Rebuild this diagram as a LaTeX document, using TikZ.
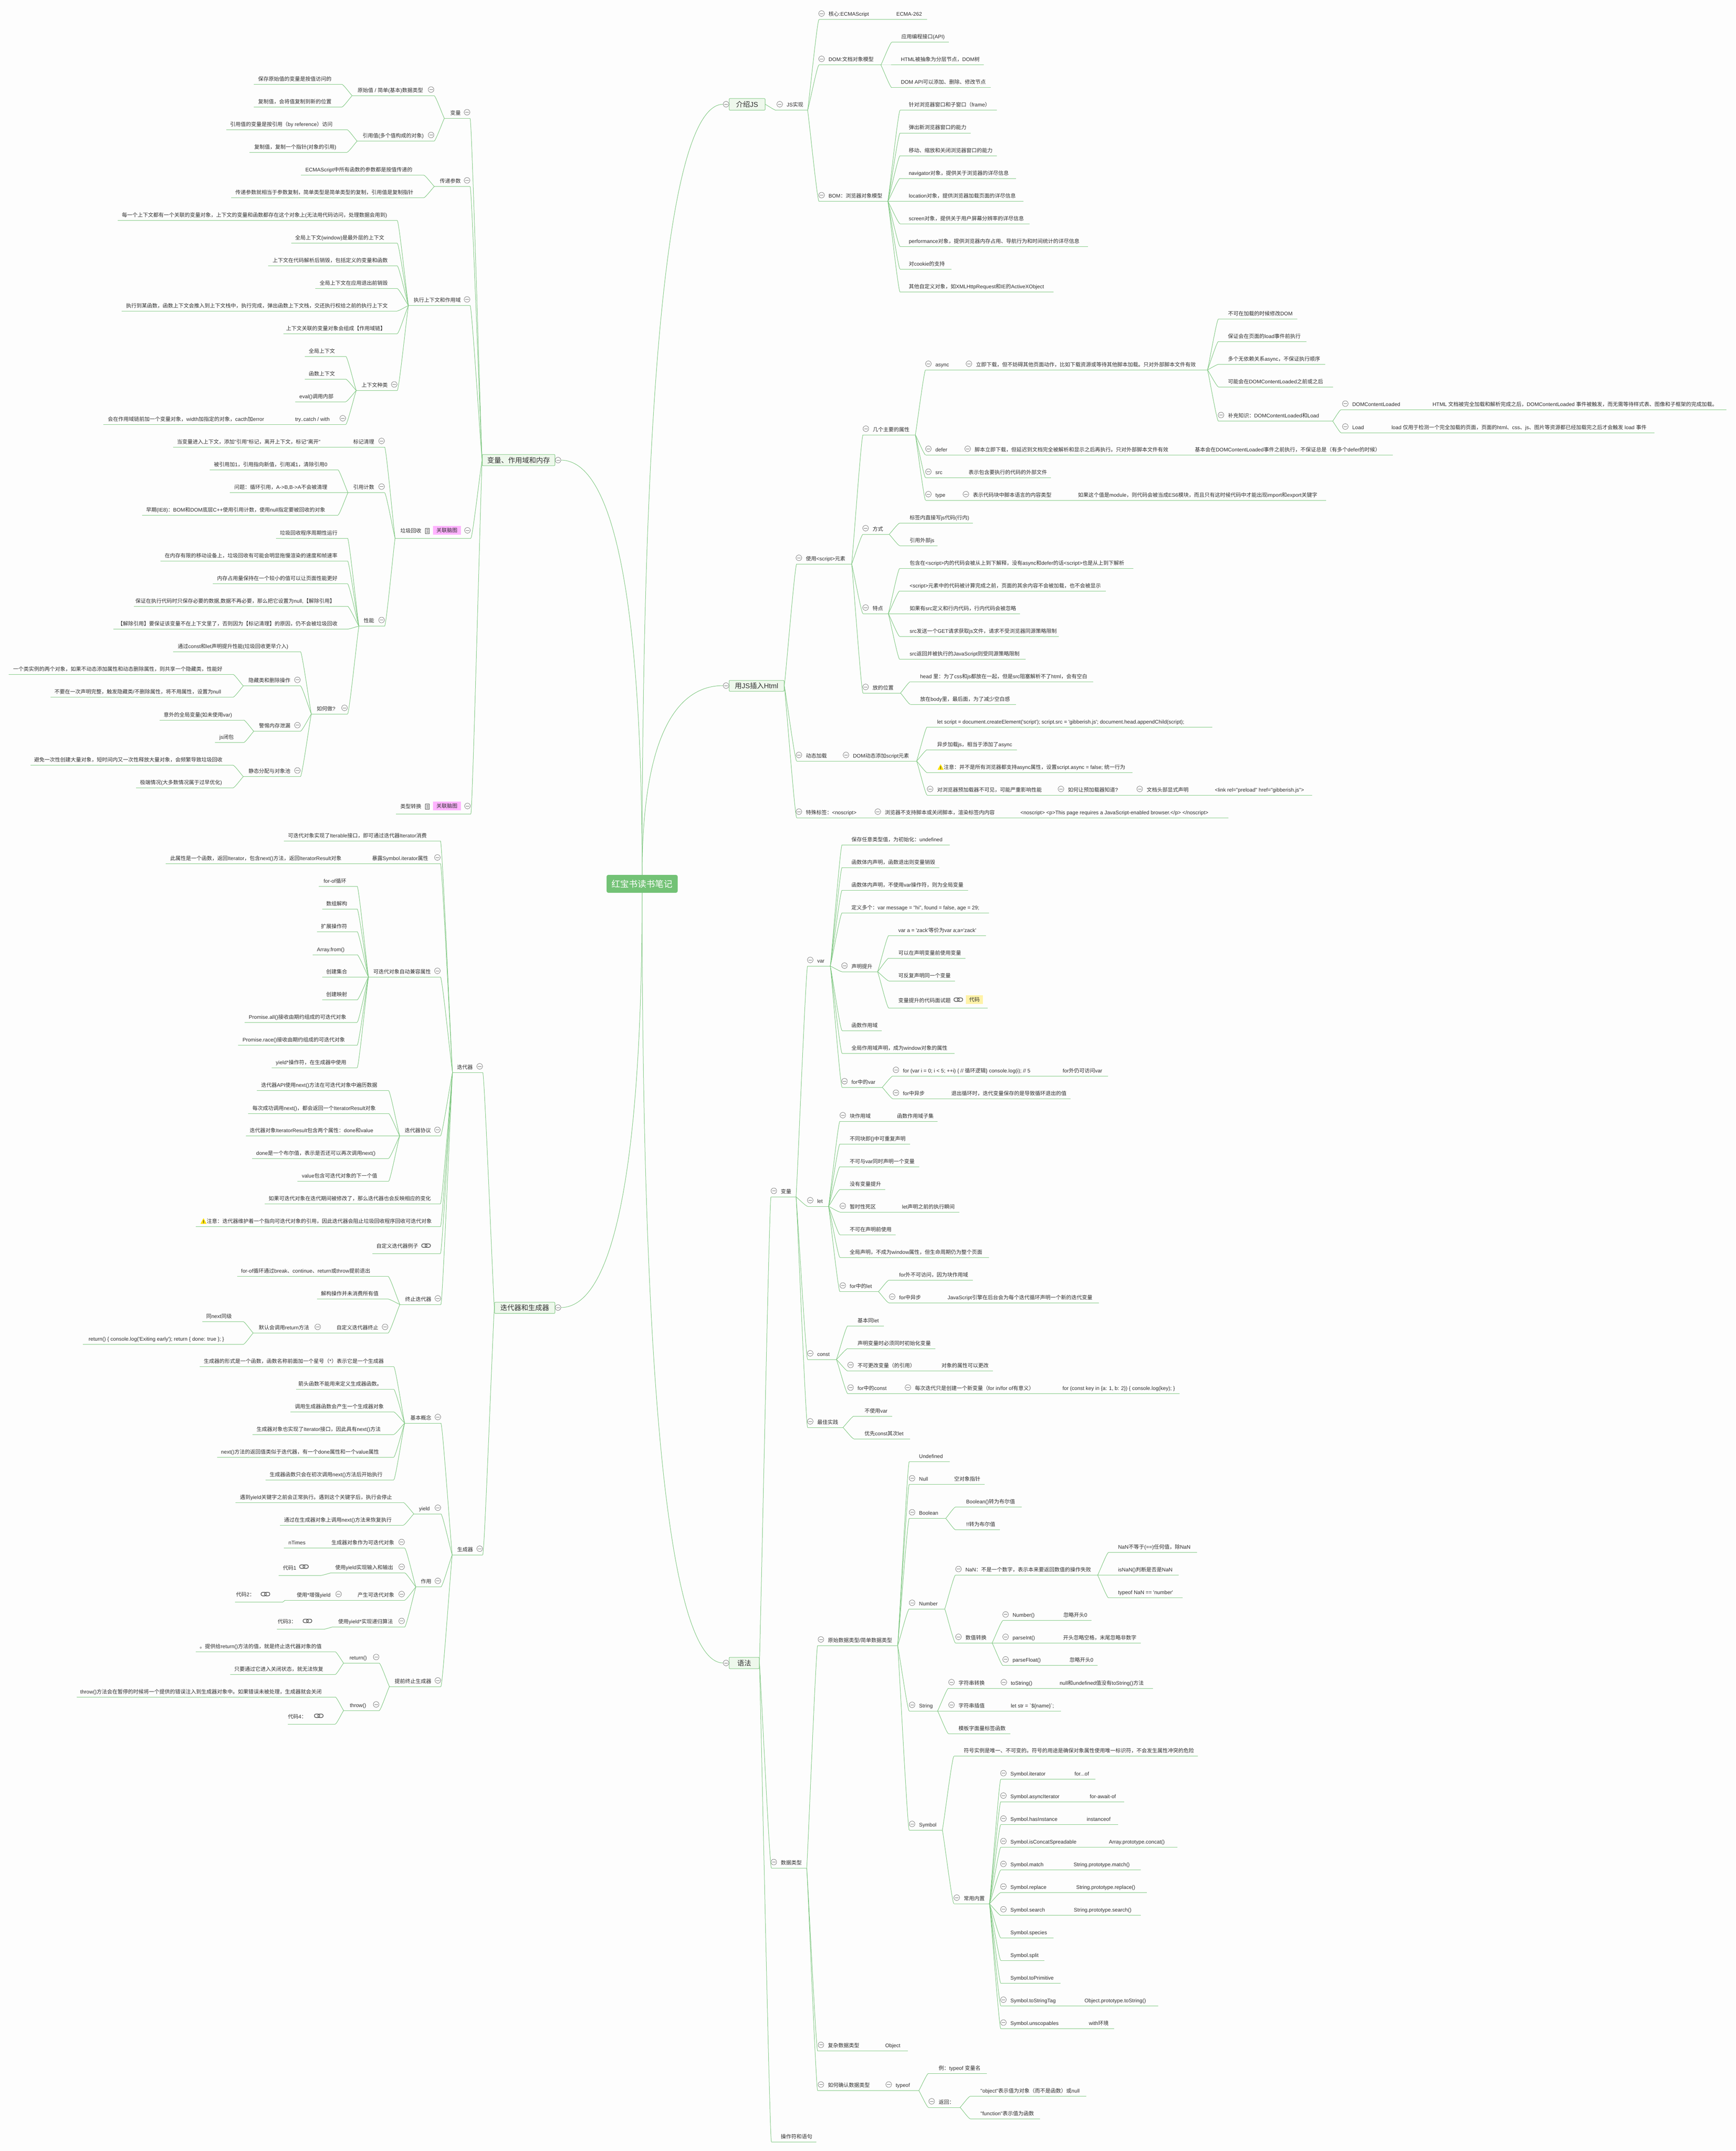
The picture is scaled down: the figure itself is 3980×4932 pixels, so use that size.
\documentclass[tikz,border=0pt]{standalone}
\usepackage{fontspec}
\usetikzlibrary{calc}
\setmainfont{Liberation Sans}
\newfontfamily\latinf{Liberation Sans}
\newfontfamily\cjkf{Noto Sans CJK SC}
\XeTeXinterchartokenstate=1
\newXeTeXintercharclass\cjkcls
\newcount\ccnt
\ccnt="2E80 \loop \XeTeXcharclass\ccnt=\cjkcls \advance\ccnt 1 \ifnum\ccnt<"A000 \repeat
\ccnt="FF00 \loop \XeTeXcharclass\ccnt=\cjkcls \advance\ccnt 1 \ifnum\ccnt<"FFF0 \repeat
\XeTeXinterchartoks 0 \cjkcls={\cjkf}
\XeTeXinterchartoks 4095 \cjkcls={\cjkf}
\XeTeXinterchartoks \cjkcls 0={\latinf}
\XeTeXinterchartoks \cjkcls 4095={\latinf}
\definecolor{bgc}{HTML}{FDFDFD}
\definecolor{grn}{HTML}{7CC67E}
\definecolor{txt}{HTML}{303030}
\definecolor{rootc}{HTML}{73C276}
\definecolor{boxc}{HTML}{EEF8EC}
\definecolor{tagy}{HTML}{FFF2A8}
\definecolor{tagp}{HTML}{FFB3FF}
\tikzset{
 tn/.style={inner sep=0pt,outer sep=0pt,text=txt,font=\latinf\fontsize{12}{12}\selectfont},
 con/.style={draw=grn,line width=1pt},
 cc/.style={draw=black!55,line width=.8pt},
 boxn/.style={draw=grn,line width=1pt,fill=boxc,rounded corners=2pt,inner sep=0pt,text=txt,font=\latinf\fontsize{16}{16}\selectfont},
 tagn/.style={inner sep=0pt,text=txt,font=\latinf\fontsize{12}{12}\selectfont,minimum height=20pt},
}
\def\tkD{8pt}
\newcommand\cnn[2]{\draw[con] let \p1=(#1),\p2=(#2) in (\p1) .. controls ({\x1+.15*(\x2-\x1)},{\y1+.12*(\y2-\y1)}) and ({\x1+.85*(\x2-\x1)},\y2) .. (\p2);}
\newcommand\mcv[2]{\draw[con] let \p1=(#1),\p2=(#2) in (\p1) .. controls (\x1,{\y1+.69*(\y2-\y1)}) and ({\x1+.38*(\x2-\x1)},\y2) .. (\p2);}
\newcommand\ciS[2]{\draw[cc,fill=bgc] ({#1},{#2}) circle[radius=6.5pt];\draw[cc] ({(#1)-4},{#2}) -- ({(#1)+4},{#2});}
\newcommand\nR[7]{\pgfmathsetlengthmacro\tkW{(#4-#3)}\pgfmathsetlengthmacro\tkO{(#6-#3)}%
 \node[tn,anchor=south west] (#1) at (#3,#5) {\makebox[\tkW][l]{\hspace*{\tkO}\rule[-\tkD]{0pt}{24pt}#7}};%
 \draw[con] (#1.south west) -- (#1.south east);%
 \ifx\relax#2\relax\else\cnn{#2.south east}{#1.south west}\fi}
\newcommand\nL[7]{\pgfmathsetlengthmacro\tkW{(#4-#3)}\pgfmathsetlengthmacro\tkO{(#4-#6)}%
 \node[tn,anchor=south west] (#1) at (#3,#5) {\makebox[\tkW][r]{#7\rule[-\tkD]{0pt}{24pt}\hspace*{\tkO}}};%
 \draw[con] (#1.south west) -- (#1.south east);%
 \ifx\relax#2\relax\else\cnn{#2.south west}{#1.south east}\fi}
\newcommand\cR[7]{\nR{#1}{#2}{#3}{#4}{#5}{#6}{#7}\ciS{#6-16}{#5-14}}
\newcommand\cL[7]{\nL{#1}{#2}{#3}{#4}{#5}{#6}{#7}\ciS{#4-7}{#5-14}}
\newcommand\lkI[2]{\draw[black!65,line width=1.5pt,rounded corners=3.5pt] ({#1-10},{#2-4}) rectangle ({#1+2},{#2+4}) ({#1-2},{#2-4}) rectangle ({#1+10},{#2+4});}
\newcommand\wnI[2]{\fill[yellow!85!orange,rounded corners=.6pt] ({#1},{#2-7}) -- ({#1+7},{#2+6}) -- ({#1-7},{#2+6}) -- cycle;\fill[black!75] ({#1-.7},{#2-2.5}) rectangle ({#1+.7},{#2+2.5}) ({#1-.7},{#2+3.2}) rectangle ({#1+.7},{#2+4.6});}
\newcommand\ntI[2]{\draw[black!70,line width=.9pt] ({#1-4.5},{#2-6}) rectangle ({#1+4.5},{#2+6}) ({#1-2.5},{#2-3}) -- ({#1+2.5},{#2-3}) ({#1-2.5},{#2}) -- ({#1+2.5},{#2}) ({#1-2.5},{#2+3}) -- ({#1+2.5},{#2+3});}
\begin{document}
\begin{tikzpicture}[x=1pt,y=-1pt]
\useasboundingbox (0,0) rectangle (3980,4932);
\fill[bgc] (0,0) rectangle (3980,4932);
% root and main boxes
\node[fill=rootc,rounded corners=4pt,inner sep=0pt,minimum width=163pt,minimum height=41pt,text=white,font=\latinf\fontsize{20}{20}\selectfont] (root) at (1472.5,2026.5) {红宝书读书笔记};
\coordinate (ea) at (1658.5,239);
\coordinate (eb) at (1658.5,1572);
\coordinate (ec) at (1658.5,3813);
\coordinate (ed) at (1286,1055);
\coordinate (ee) at (1286,2998);
\mcv{root.north}{ea}\mcv{root.north}{eb}\mcv{root.south}{ec}\mcv{root.north}{ed}\mcv{root.south}{ee}
\node[boxn,minimum width=82.5pt,minimum height=26.6pt] (bA) at (1713.25,239.3) {介绍JS};
\node[boxn,minimum width=126pt,minimum height=25pt] (bB) at (1735,1572.5) {用JS插入Html};
\node[boxn,minimum width=69pt,minimum height=26pt] (bC) at (1706.5,3813) {语法};
\node[boxn,minimum width=166.6pt,minimum height=25.7pt] (bD) at (1189.3,1054.9) {变量、作用域和内存};
\node[boxn,minimum width=138.6pt,minimum height=25.5pt] (bE) at (1203.3,2998.7) {迭代器和生成器};
\ciS{1665}{239}\ciS{1665}{1572}\ciS{1665}{3813}\ciS{1279.6}{1055}\ciS{1279.6}{2998}
% ---------- 介绍JS
\cR{a0}{}{1780}{1852}{253}{1804}{JS实现}\cnn{bA.east}{a0.south west}
\cR{a1}{a0}{1878}{2042}{45}{1900}{核心:ECMAScript}
\nR{a1b}{a1}{2042}{2125.6}{45}{2055.5}{ECMA-262}
\cR{a2}{a0}{1878}{2020}{149}{1900}{DOM:文档对象模型}
\nR{a21}{a2}{2045}{2176}{97}{2067}{应用编程接口(API)}
\nR{a22}{a2}{2045}{2256}{149}{2066}{HTML被抽象为分层节点，DOM树}
\nR{a23}{a2}{2045}{2272}{201}{2066}{DOM API可以添加、删除、修改节点}
\cR{a3}{a0}{1878}{2036}{461.5}{1900}{BOM：浏览器对象模型}
\nR{a31}{a3}{2064}{2285.6}{253}{2084}{针对浏览器窗口和子窗口（frame）}
\nR{a32}{a3}{2064}{2226}{305}{2084}{弹出新浏览器窗口的能力}
\nR{a33}{a3}{2064}{2286}{357}{2084}{移动、缩放和关闭浏览器窗口的能力}
\nR{a34}{a3}{2064}{2330}{409}{2084}{navigator对象，提供关于浏览器的详尽信息}
\nR{a35}{a3}{2064}{2346.6}{461.5}{2084}{location对象，提供浏览器加载页面的详尽信息}
\nR{a36}{a3}{2064}{2361}{513}{2084}{screen对象，提供关于用户屏幕分辨率的详尽信息}
\nR{a37}{a3}{2064}{2495}{565}{2084}{performance对象，提供浏览器内存占用、导航行为和时间统计的详尽信息}
\nR{a38}{a3}{2064}{2182.4}{617}{2084}{对cookie的支持}
\nR{a39}{a3}{2064}{2416}{669.5}{2084}{其他自定义对象，如XMLHttpRequest和IE的ActiveXObject}
% ---------- 用JS插入Html
\cR{c0}{}{1827}{1953}{1293}{1848}{使用<script>元素}\cnn{bB.east}{c0.south west}
\cR{c1}{c0}{1979}{2099}{997}{2001.6}{几个主要的属性}
\cR{c11}{c1}{2122.5}{2216}{848}{2145}{async}
\cR{c11b}{c11}{2216}{2769}{848}{2238}{立即下载，但不妨碍其他页面动作，比如下载资源或等待其他脚本加载。只对外部脚本文件有效}
\nR{c111}{c11b}{2794}{2975}{731.5}{2816}{不可在加载的时候修改DOM}
\nR{c112}{c11b}{2794}{2996}{783}{2816}{保证会在页面的load事件前执行}
\nR{c113}{c11b}{2794}{3039}{835.5}{2816}{多个无依赖关系async，不保证执行顺序}
\nR{c114}{c11b}{2794}{3057}{887}{2816}{可能会在DOMContentLoaded之前或之后}
\cR{c115}{c11b}{2794}{3056}{965.6}{2816}{补充知识：DOMContentLoaded和Load}
\cR{c1151}{c115}{3075}{3270}{939.5}{3101}{DOMContentLoaded}
\nR{c1151b}{c1151}{3270}{3959}{939.5}{3285}{HTML 文档被完全加载和解析完成之后，DOMContentLoaded 事件被触发，而无需等待样式表、图像和子框架的完成加载。}
\cR{c1152}{c115}{3075}{3176}{992}{3101}{Load}
\nR{c1152b}{c1152}{3176}{3793.5}{992}{3191}{load 仅用于检测一个完全加载的页面，页面的html、css、js、图片等资源都已经加载完之后才会触发 load 事件}
\cR{c12}{c1}{2122.5}{2214}{1043}{2145}{defer}
\cR{c12b}{c12}{2214}{2726}{1043}{2235}{脚本立即下载，但延迟到文档完全被解析和显示之后再执行。只对外部脚本文件有效}
\nR{c12c}{c12b}{2726}{3194}{1043}{2740}{基本会在DOMContentLoaded事件之前执行，不保证总是（有多个defer的时候）}
\cR{c13}{c1}{2122.5}{2207}{1095.5}{2145}{src}
\nR{c13b}{c13}{2207}{2410}{1095.5}{2221}{表示包含要执行的代码的外部文件}
\cR{c14}{c1}{2122.5}{2209}{1147}{2145}{type}
\cR{c14b}{c14}{2209}{2458}{1147}{2231}{表示代码块中脚本语言的内容类型}
\nR{c14c}{c14b}{2458}{3041}{1147}{2472}{如果这个值是module，则代码会被当成ES6模块，而且只有这时候代码中才能出现import和export关键字}
\cR{c2}{c0}{1979}{2039}{1225}{2001}{方式}
\nR{c21}{c2}{2063}{2231}{1199.6}{2086}{标签内直接写js代码(行内)}
\nR{c22}{c2}{2063}{2150}{1251}{2086}{引用外部js}
\cR{c3}{c0}{1979}{2037}{1407}{2001}{特点}
\nR{c31}{c3}{2063}{2599}{1303.6}{2086}{包含在<script>内的代码会被从上到下解释，没有async和defer的话<script>也是从上到下解析}
\nR{c32}{c3}{2063}{2536}{1355}{2086}{<script>元素中的代码被计算完成之前，页面的其余内容不会被加载，也不会被显示}
\nR{c33}{c3}{2063}{2339}{1407}{2086}{如果有src定义和行内代码，行内代码会被忽略}
\nR{c34}{c3}{2063}{2428}{1459}{2086}{src发送一个GET请求获取js文件，请求不受浏览器同源策略限制}
\nR{c35}{c3}{2063}{2352}{1511.5}{2086}{src返回并被执行的JavaScript则受同源策略限制}
\cR{c4}{c0}{1979}{2065}{1589}{2001}{放的位置}
\nR{c41}{c4}{2087.5}{2507}{1563}{2110}{head 里：为了css和js都放在一起，但是src阻塞解析不了html，会有空白}
\nR{c42}{c4}{2087.5}{2330}{1615}{2110}{放在body里，最后面，为了减少空白感}
\cR{d0}{}{1827}{1934}{1745}{1848}{动态加载}\cnn{bB.east}{d0.south west}
\cR{d0b}{d0}{1934}{2102}{1745}{1956}{DOM动态添加script元素}
\nR{d1}{d0b}{2126}{2780}{1667}{2149}{let script = document.createElement('script'); script.src = 'gibberish.js'; document.head.appendChild(script);}
\nR{d2}{d0b}{2126}{2332}{1719}{2149}{异步加载js，相当于添加了async}
\nR{d3}{d0b}{2126}{2597}{1771.6}{2164}{注意：并不是所有浏览器都支持async属性，设置script.async = false; 统一行为}
\wnI{2157}{1759}
\cR{d4}{d0b}{2126}{2427}{1823}{2149}{对浏览器预加载器不可见，可能严重影响性能}
\cR{d4b}{d4}{2427}{2607}{1823}{2449}{如何让预加载器知道?}
\cR{d4c}{d4b}{2607}{2772}{1823}{2629.5}{文档头部显式声明}
\nR{d4d}{d4c}{2772}{3009}{1823}{2786}{<link rel="preload" href="gibberish.js">}
\cR{e0}{}{1827}{2006}{1875}{1848}{特殊标签：<noscript>}\cnn{bB.east}{e0.south west}
\cR{e0b}{e0}{2006}{2326}{1875}{2029}{浏览器不支持脚本或关闭脚本，渲染标签内内容}
\nR{e0c}{e0b}{2326}{2817}{1875}{2340}{<noscript> <p>This page requires a JavaScript-enabled browser.</p> </noscript>}
% ---------- 语法: 变量
\cR{f0}{}{1768}{1825.6}{2744.5}{1790.6}{变量}\cnn{bC.east}{f0.south west}
\cR{f1}{f0}{1852}{1904}{2215}{1874}{var}
\nR{f11}{f1}{1931}{2178}{1937}{1952.6}{保存任意类型值，为初始化：undefined}
\nR{f12}{f1}{1931}{2154}{1989}{1952.6}{函数体内声明，函数退出则变量销毁}
\nR{f13}{f1}{1931}{2220}{2041}{1952.6}{函数体内声明，不使用var操作符，则为全局变量}
\nR{f14}{f1}{1931}{2268}{2093}{1952.6}{定义多个：var message = "hi", found = false, age = 29;}
\cR{f15}{f1}{1931}{2012.5}{2228}{1952.6}{声明提升}
\nR{f151}{f15}{2038}{2261}{2145}{2060}{var a = 'zack'等价为var a;a='zack'}
\nR{f152}{f15}{2038}{2214}{2197}{2060}{可以在声明变量前使用变量}
\nR{f153}{f15}{2038}{2190}{2249}{2060}{可反复声明同一个变量}
\def\tkD{13pt}
\nR{f154}{f15}{2038}{2264.5}{2311.4}{2060}{变量提升的代码面试题}
\def\tkD{8pt}
\lkI{2197.5}{2292}
\node[tagn,fill=tagy,minimum width=39pt] (tg1) at (2234.5,2291.8) {代码};
\nR{f16}{f1}{1931}{2022}{2363}{1952.6}{函数作用域}
\nR{f17}{f1}{1931}{2188.5}{2415}{1952.6}{全局作用域声明，成为window对象的属性}
\cR{f18}{f1}{1931}{2023}{2493}{1952.6}{for中的var}
\cR{f181}{f18}{2047.6}{2424}{2467}{2070.6}{for (var i = 0; i < 5; ++i) \{ // 循环逻辑\} console.log(i); // 5}
\nR{f181b}{f181}{2424}{2541}{2467}{2437}{for外仍可访问var}
\cR{f182}{f18}{2047.6}{2168}{2519.5}{2070.6}{for中异步}
\nR{f182b}{f182}{2168}{2455}{2519.5}{2181.5}{退出循环时，迭代变量保存的是导致循环退出的值}
\cR{f2}{f0}{1852}{1900}{2766}{1874}{let}
\cR{f21}{f2}{1926}{2045}{2571}{1948.7}{块作用域}
\nR{f21b}{f21}{2045}{2150}{2571}{2057}{函数作用域子集}
\nR{f22}{f2}{1926}{2086.5}{2623}{1948.7}{不同块即\{\}中可重复声明}
\nR{f23}{f2}{1926}{2108}{2675}{1948.7}{不可与var同时声明一个变量}
\nR{f24}{f2}{1926}{2030}{2727.5}{1948.7}{没有变量提升}
\cR{f25}{f2}{1926}{2056}{2779}{1948.7}{暂时性死区}
\nR{f25b}{f25}{2056}{2200}{2779}{2068.6}{let声明之前的执行瞬间}
\nR{f26}{f2}{1926}{2054}{2831}{1948.7}{不可在声明前使用}
\nR{f27}{f2}{1926}{2267.6}{2883}{1948.7}{全局声明，不成为window属性，但生命周期仍为整个页面}
\cR{f28}{f2}{1926}{2014.4}{2961.5}{1948.7}{for中的let}
\nR{f281}{f28}{2038}{2231}{2935.6}{2062}{for外不可访问，因为块作用域}
\cR{f282}{f28}{2038}{2160}{2987}{2062}{for中异步}
\nR{f282b}{f282}{2160}{2520}{2987}{2173}{JavaScript引擎在后台会为每个迭代循环声明一个新的迭代变量}
\cR{f3}{f0}{1852}{1918}{3117}{1874}{const}
\nR{f31}{f3}{1944}{2026.5}{3040}{1966.6}{基本同let}
\nR{f32}{f3}{1944}{2144.5}{3092}{1966.6}{声明变量时必须同时初始化变量}
\cR{f33}{f3}{1944}{2146}{3143.6}{1966.6}{不可更改变量（的引用）}
\nR{f33b}{f33}{2146}{2276.6}{3143.6}{2159}{对象的属性可以更改}
\cR{f34}{f3}{1944}{2075}{3195.4}{1966.6}{for中的const}
\cR{f34b}{f34}{2075}{2424}{3195.4}{2098}{每次迭代只是创建一个新变量（for in/for of有意义）}
\nR{f34c}{f34b}{2424}{2705}{3195.4}{2436.6}{for (const key in \{a: 1, b: 2\}) \{ console.log(key); \}}
\cR{f4}{f0}{1852}{1933}{3273}{1874}{最佳实践}
\nR{f41}{f4}{1958}{2046}{3247}{1982.5}{不使用var}
\nR{f42}{f4}{1958}{2086.5}{3299}{1982.5}{优先const其次let}
% ---------- 数据类型
\cR{g0}{}{1769}{1850}{4283.5}{1790.5}{数据类型}\cnn{bC.east}{g0.south west}
\cR{g1}{g0}{1875}{2058.5}{3773}{1898.5}{原始数据类型/简单数据类型}
\nR{g11}{g1}{2085}{2178}{3351.4}{2107.6}{Undefined}
\cR{g12}{g1}{2085}{2175}{3403.5}{2107.6}{Null}
\nR{g12b}{g12}{2175}{2258}{3403.5}{2188}{空对象指针}
\cR{g13}{g1}{2085}{2168.6}{3481.5}{2107.6}{Boolean}
\nR{g131}{g13}{2191}{2342.6}{3455.5}{2215.6}{Boolean()转为布尔值}
\nR{g132}{g13}{2191}{2292.8}{3507.5}{2215.6}{!!转为布尔值}
\cR{g14}{g1}{2085}{2166.5}{3689}{2107.6}{Number}
\cR{g141}{g14}{2191}{2517}{3611.6}{2214}{NaN：不是一个数字，表示本来要返回数值的操作失败}
\nR{g1411}{g141}{2542}{2745}{3559.6}{2564}{NaN不等于(==)任何值，除NaN}
\nR{g1412}{g141}{2542}{2702.5}{3611.6}{2564}{isNaN()判断是否是NaN}
\nR{g1413}{g141}{2542}{2712}{3663.7}{2564}{typeof NaN == 'number'}
\cR{g142}{g14}{2191}{2275}{3767}{2214}{数值转换}
\cR{g1421}{g142}{2300}{2425}{3715.7}{2322}{Number()}
\nR{g1421b}{g1421}{2425}{2503}{3715.7}{2438.7}{忽略开头0}
\cR{g1422}{g142}{2300}{2425}{3767}{2322}{parseInt()}
\nR{g1422b}{g1422}{2425}{2615.5}{3767}{2438}{开头忽略空格，末尾忽略非数字}
\cR{g1423}{g142}{2300}{2439}{3818.8}{2322}{parseFloat()}
\nR{g1423b}{g1423}{2439}{2517}{3818.8}{2452.7}{忽略开头0}
\cR{g15}{g1}{2085}{2150}{3923}{2107.6}{String}
\cR{g151}{g15}{2175}{2296}{3871}{2198}{字符串转换}
\cR{g151b}{g151}{2296}{2418}{3871}{2318}{toString()}
\nR{g151c}{g151b}{2418}{2644}{3871}{2430}{null和undefined值没有toString()方法}
\cR{g152}{g15}{2175}{2306}{3923}{2198}{字符串插值}
\nR{g152b}{g152}{2306}{2433}{3923}{2318}{let str = `\$\{name\}`;}
\nR{g153}{g15}{2175}{2317}{3975}{2198}{模板字面量标签函数}
\cR{g16}{g1}{2085}{2161}{4196}{2107.6}{Symbol}
\nR{g161}{g16}{2187.5}{2747}{4026.7}{2210}{符号实例是唯一、不可变的。符号的用途是确保对象属性使用唯一标识符，不会发生属性冲突的危险}
\cR{g162}{g16}{2187.5}{2269}{4365}{2210}{常用内置}
\cR{h1}{g162}{2295}{2450}{4079.6}{2317}{Symbol.iterator}
\nR{h1b}{h1}{2450}{2511.6}{4079.6}{2464}{for...of}
\cR{h2}{g162}{2295}{2486}{4131}{2317}{Symbol.asyncIterator}
\nR{h2b}{h2}{2486}{2577.6}{4131}{2499}{for-await-of}
\cR{h3}{g162}{2295}{2479}{4183.7}{2317}{Symbol.hasInstance}
\nR{h3b}{h3}{2479}{2563.6}{4183.7}{2492}{instanceof}
\cR{h4}{g162}{2295}{2530}{4235.4}{2317}{Symbol.isConcatSpreadable}
\nR{h4b}{h4}{2530}{2700}{4235.4}{2543}{Array.prototype.concat()}
\cR{h5}{g162}{2295}{2449}{4287.7}{2317}{Symbol.match}
\nR{h5b}{h5}{2449}{2615.5}{4287.7}{2462}{String.prototype.match()}
\cR{h6}{g162}{2295}{2455}{4339.4}{2317}{Symbol.replace}
\nR{h6b}{h6}{2455}{2629.5}{4339.4}{2468}{String.prototype.replace()}
\cR{h7}{g162}{2295}{2449}{4391.7}{2317}{Symbol.search}
\nR{h7b}{h7}{2449}{2616}{4391.7}{2462.5}{String.prototype.search()}
\nR{h8}{g162}{2295}{2416}{4443.4}{2317}{Symbol.species}
\nR{h9}{g162}{2295}{2394.5}{4495}{2317}{Symbol.split}
\nR{h10}{g162}{2295}{2432}{4547.4}{2317}{Symbol.toPrimitive}
\cR{h11}{g162}{2295}{2474}{4599}{2317}{Symbol.toStringTag}
\nR{h11b}{h11}{2474}{2655.5}{4599}{2487}{Object.prototype.toString()}
\cR{h12}{g162}{2295}{2484}{4651.5}{2317}{Symbol.unscopables}
\nR{h12b}{h12}{2484}{2555}{4651.5}{2497}{with环境}
\cR{g2}{g0}{1875}{2017}{4702.6}{1898.5}{复杂数据类型}
\nR{g2b}{g2}{2017}{2081.6}{4702.6}{2030}{Object}
\cR{g3}{g0}{1875}{2032}{4793.5}{1898.5}{如何确认数据类型}
\cR{g3b}{g3}{2032}{2107}{4793.5}{2054}{typeof}
\nR{g31}{g3b}{2129}{2263}{4754}{2152.5}{例：typeof 变量名}
\cR{g32}{g3b}{2129}{2201.6}{4832}{2152.5}{返回：}
\nR{g321}{g32}{2224.7}{2491}{4806.6}{2248.6}{"object"表示值为对象（而不是函数）或null}
\nR{g322}{g32}{2224.7}{2384.7}{4858}{2248.6}{"function"表示值为函数}
\nR{k0}{}{1769}{1872}{4911}{1790.5}{操作符和语句}\cnn{bC.east}{k0.south west}
% ---------- LEFT 变量、作用域和内存
\cL{m1}{}{1019}{1078}{271.4}{1056.5}{变量}\cnn{bD.west}{m1.south east}
\cL{m11}{m1}{807.5}{995.5}{219.4}{970}{原始值 / 简单(基本)数据类型}
\nL{m111}{m11}{582}{784}{193.4}{760}{保存原始值的变量是按值访问的}
\nL{m112}{m11}{582}{784}{245.4}{760}{复制值，会将值复制到新的位置}
\cL{m12}{m1}{819}{995.5}{323.5}{971.6}{引用值(多个值构成的对象)}
\nL{m121}{m12}{518.5}{796}{297.4}{762.6}{引用值的变量是按引用（by reference）访问}
\nL{m122}{m12}{572}{796}{349}{771}{复制值，复制一个指针(对象的引用)}
\cL{m2}{}{996}{1078}{427.6}{1056.5}{传递参数}\cnn{bD.west}{m2.south east}
\nL{m21}{m2}{690}{971.6}{401.5}{945.7}{ECMAScript中所有函数的参数都是按值传递的}
\nL{m22}{m2}{530}{971.6}{453.6}{947.8}{传递参数就相当于参数复制，简单类型是简单类型的复制，引用值是复制指针}
\cL{m3}{}{936.6}{1078}{700.5}{1056.5}{执行上下文和作用域}\cnn{bD.west}{m3.south east}
\nL{m31}{m3}{269.5}{911}{505.6}{887.5}{每一个上下文都有一个关联的变量对象，上下文的变量和函数都存在这个对象上(无法用代码访问，处理数据会用到)}
\nL{m32}{m3}{668}{911}{557.6}{881}{全局上下文(window)是最外层的上下文}
\nL{m33}{m3}{614.6}{911}{609.7}{889}{上下文在代码解析后销毁，包括定义的变量和函数}
\nL{m34}{m3}{722.6}{911}{661.7}{889}{全局上下文在应用退出前销毁}
\nL{m35}{m3}{278.6}{911}{713}{889}{执行到某函数，函数上下文会推入到上下文栈中，执行完成，弹出函数上下文栈，交还执行权给之前的执行上下文}
\nL{m36}{m3}{650}{911}{765}{884}{上下文关联的变量对象会组成【作用域链】}
\cL{m37}{m3}{817}{911}{895.4}{889}{上下文种类}
\nL{m371}{m37}{699}{793}{817}{768}{全局上下文}
\nL{m372}{m37}{699}{793}{869.4}{768}{函数上下文}
\nL{m373}{m37}{677}{793}{921}{764.7}{eval()调用内部}
\cL{m374}{m37}{620}{793}{973}{756}{try..catch / with}
\nL{m374b}{m374}{237}{620}{973}{605.5}{会在作用域链前加一个变量对象，width加指定的对象，cacth加error}
\def\tkD{13pt}
\nL{m4}{}{906}{1079.7}{1234}{966}{垃圾回收}\cnn{bD.west}{m4.south east}
\def\tkD{8pt}
\ntI{980}{1217}\ciS{1072}{1216}
\node[tagn,fill=tagp,minimum width=63.5pt] (tg2) at (1024.75,1215.5) {关联脑图};
\cL{m41}{m4}{750}{882}{1025}{858}{标记清理}
\nL{m41b}{m41}{397}{750}{1025}{735}{当变量进入上下文，添加"引用"标记，离开上下文，标记"离开"}
\cL{m42}{m4}{798}{882}{1129.7}{858}{引用计数}
\nL{m421}{m42}{480.6}{775}{1077.4}{750.7}{被引用加1，引用指向新值，引用减1，清除引用0}
\nL{m422}{m42}{527}{775}{1129.7}{750.7}{问题：循环引用，A->B,B->A不会被清理}
\nL{m423}{m42}{325.6}{775}{1181}{745.8}{早期(IE8)：BOM和DOM底层C++使用引用计数，使用null指定要被回收的对象}
\cL{m43}{m4}{823}{882}{1435.6}{858}{性能}
\nL{m431}{m43}{633}{797}{1234}{773.8}{垃圾回收程序周期性运行}
\nL{m432}{m43}{368}{797}{1286}{773.8}{在内存有限的移动设备上，垃圾回收有可能会明显拖慢渲染的速度和帧速率}
\nL{m433}{m43}{488}{797}{1338.6}{773.8}{内存占用量保持在一个较小的值可以让页面性能更好}
\nL{m434}{m43}{306.6}{797}{1390}{768}{保证在执行代码时只保存必要的数据,数据不再必要，那么把它设置为null,【解除引用】}
\nL{m435}{m43}{260}{797}{1442.5}{773.8}{【解除引用】要保证该变量不在上下文里了，否则因为【标记清理】的原因，仍不会被垃圾回收}
\cL{m44}{m43}{714}{797}{1637}{769}{如何做?}
\nL{m441}{m44}{397}{689}{1494}{661}{通过const和let声明提升性能(垃圾回收更早介入)}
\cL{m442}{m44}{558}{689}{1572.8}{665.8}{隐藏类和删除操作}
\nL{m4421}{m442}{20}{534.6}{1546.4}{510}{一个类实例的两个对象，如果不动态添加属性和动态删除属性，则共享一个隐藏类，性能好}
\nL{m4422}{m442}{116}{534.6}{1598.6}{507}{不要在一次声明完整，触发隐藏类/不删除属性，将不用属性，设置为null}
\cL{m443}{m44}{582}{689}{1676.7}{665.8}{警惕内存泄漏}
\nL{m4431}{m443}{365.6}{559}{1651}{532}{意外的全局变量(如未使用var)}
\nL{m4432}{m443}{493}{559}{1702.5}{536}{js闭包}
\cL{m444}{m44}{558}{689}{1780.6}{665.8}{静态分配与对象池}
\nL{m4441}{m444}{70}{534.6}{1754.7}{510}{避免一次性创建大量对象，短时间内又一次性释放大量对象，会频繁导致垃圾回收}
\nL{m4442}{m444}{311.5}{534.6}{1806.4}{509}{极端情况(大多数情况属于过早优化)}
\def\tkD{13pt}
\nL{m5}{}{908}{1079.7}{1866}{966}{类型转换}\cnn{bD.west}{m5.south east}
\def\tkD{8pt}
\ntI{980}{1849}\ciS{1072}{1848}
\node[tagn,fill=tagp,minimum width=63.5pt] (tg3) at (1024.75,1847.5) {关联脑图};
% ---------- LEFT 迭代器和生成器
\cL{p1}{}{1037.7}{1107}{2459}{1084}{迭代器}\cnn{bE.west}{p1.south east}
\nL{p11}{p1}{651.4}{1010}{1928}{978.6}{可迭代对象实现了Iterable接口，即可通过迭代器Iterator消费}
\cL{p12}{p1}{840}{1010}{1980}{982}{暴露Symbol.iterator属性}
\nL{p12b}{p12}{380}{840}{1980}{783}{此属性是一个函数，返回Iterator，包含next()方法，返回IteratorResult对象}
\cL{p13}{p1}{845}{1010}{2240}{988}{可迭代对象自动兼容属性}
\nL{p131}{p13}{731}{819}{2032}{794}{for-of循环}
\nL{p132}{p13}{739}{819}{2084}{796}{数组解构}
\nL{p133}{p13}{726.6}{819}{2136}{796}{扩展操作符}
\nL{p134}{p13}{717}{819}{2189}{790}{Array.from()}
\nL{p135}{p13}{739}{819}{2240}{796}{创建集合}
\nL{p136}{p13}{739}{819}{2292.6}{796}{创建映射}
\nL{p137}{p13}{560.7}{819}{2344}{794}{Promise.all()接收由期约组成的可迭代对象}
\nL{p138}{p13}{546}{819}{2396.6}{791}{Promise.race()接收由期约组成的可迭代对象}
\nL{p139}{p13}{622.7}{819}{2448}{794}{yield*操作符，在生成器中使用}
\cL{p14}{p1}{916.6}{1010}{2604.5}{988}{迭代器协议}
\nL{p141}{p14}{589}{891}{2500.6}{865}{迭代器API使用next()方法在可迭代对象中遍历数据}
\nL{p142}{p14}{569}{891}{2553}{861.5}{每次成功调用next()，都会返回一个IteratorResult对象}
\nL{p143}{p14}{563.6}{891}{2604.5}{856}{迭代器对象IteratorResult包含两个属性：done和value}
\nL{p144}{p14}{578}{891}{2656}{861}{done是一个布尔值，表示是否还可以再次调用next()}
\nL{p145}{p14}{682}{891}{2708.5}{865}{value包含可迭代对象的下一个值}
\nL{p15}{p1}{606.6}{1010}{2760}{988}{如果可迭代对象在迭代期间被修改了，那么迭代器也会反映相应的变化}
\nL{p16}{p1}{449}{1010}{2812.5}{990}{注意：迭代器维护着一个指向可迭代对象的引用，因此迭代器会阻止垃圾回收程序回收可迭代对象}
\wnI{466.7}{2800}
\def\tkD{13pt}
\nL{p17}{p1}{853.5}{1010}{2874}{959}{自定义迭代器例子}
\def\tkD{8pt}
\lkI{977}{2856}
\cL{p18}{p1}{917}{1011}{2991}{989}{终止迭代器}
\nL{p181}{p18}{543.6}{890}{2926.6}{849}{for-of循环通过break、continue、return或throw提前退出}
\nL{p182}{p18}{726.7}{890}{2978.6}{868}{解构操作并未消费所有值}
\cL{p183}{p18}{735.6}{890}{3056.4}{867.6}{自定义迭代器终止}
\cL{p183b}{p183}{580.6}{735.6}{3056.4}{709}{默认会调用return方法}
\nL{p1831}{p183b}{464}{558}{3030.5}{531.5}{同next同级}
\nL{p1832}{p183b}{190}{558}{3082.4}{514}{return() \{ console.log('Exiting early'); return \{ done: true \}; \}}
\cL{q0}{}{1037}{1107}{3565}{1084.5}{生成器}\cnn{bE.west}{q0.south east}
\cL{q1}{q0}{928}{1011}{3263}{989}{基本概念}
\nL{q11}{q1}{457.5}{903}{3133.6}{880}{生成器的形式是一个函数，函数名称前面加一个星号（*）表示它是一个生成器}
\nL{q12}{q1}{679}{903}{3185.5}{876}{箭头函数不能用来定义生成器函数。}
\nL{q13}{q1}{666}{903}{3237.4}{880}{调用生成器函数会产生一个生成器对象}
\nL{q14}{q1}{579}{903}{3289}{873}{生成器对象也实现了Iterator接口，因此具有next()方法}
\nL{q15}{q1}{498}{903}{3341}{869}{next()方法的返回值类似于迭代器，有一个done属性和一个value属性}
\nL{q16}{q1}{609}{903}{3393}{877}{生成器函数只会在初次调用next()方法后开始执行}
\cL{q2}{q0}{949}{1011}{3471}{985.6}{yield}
\nL{q21}{q2}{540}{925}{3445}{899}{遇到yield关键字之前会正常执行。遇到这个关键字后，执行会停止}
\nL{q22}{q2}{642}{925}{3497}{898}{通过在生成器对象上调用next()方法来恢复执行}
\cL{q3}{q0}{953.7}{1011}{3638.7}{989}{作用}
\cL{q31}{q3}{753}{928}{3549.6}{904}{生成器对象作为可迭代对象}
\nL{q31b}{q31}{651}{753}{3549.6}{700.5}{nTimes}
\cL{q32}{q3}{759}{928}{3606.4}{901.5}{使用yield实现输入和输出}
\def\tkD{13pt}
\nL{q32b}{q32}{639}{737}{3612}{679.5}{代码1}
\def\tkD{8pt}
\lkI{697}{3592}
\cL{q33}{q3}{783.4}{928}{3669}{904}{产生可迭代对象}
\cL{q33b}{q33}{654}{783.4}{3669}{758}{使用*增强yield}
\def\tkD{13pt}
\nL{q33c}{q33b}{538.5}{647.6}{3673.7}{584}{代码2：}
\def\tkD{8pt}
\lkI{608.7}{3655}
\cL{q34}{q3}{762}{928}{3730.6}{901}{使用yield*实现递归算法}
\def\tkD{13pt}
\nL{q34b}{q34}{635}{743}{3735.5}{679.5}{代码3：}
\def\tkD{8pt}
\lkI{705}{3716.5}
\cL{q4}{q0}{893}{1011}{3867}{989}{提前终止生成器}
\cL{q41}{q4}{788}{869.6}{3813.3}{841}{return()}
\nL{q411}{q41}{448.6}{769}{3787.4}{737.5}{。提供给return()方法的值，就是终止迭代器对象的值}
\nL{q412}{q41}{527.7}{769}{3839.3}{741.4}{只要通过它进入关闭状态，就无法恢复}
\cL{q42}{q4}{788}{869.6}{3922}{839.6}{throw()}
\nL{q421}{q42}{176}{769}{3891}{737.5}{throw()方法会在暂停的时候将一个提供的错误注入到生成器对象中。如果错误未被处理，生成器就会关闭}
\def\tkD{13pt}
\nL{q422}{q42}{660}{769}{3953}{703}{代码4：}
\def\tkD{8pt}
\lkI{731}{3934}
\end{tikzpicture}
\end{document}
